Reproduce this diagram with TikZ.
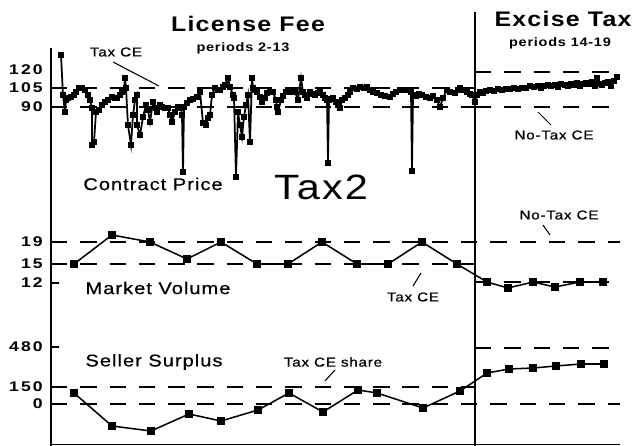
\documentclass[tikz,border=0pt]{standalone}
\usepackage{fontspec}
\setmainfont{Liberation Sans}
\newfontfamily\lab[FakeStretch=1.18,LetterSpace=6]{Liberation Sans}
\newfontfamily\labm[FakeStretch=1.18,LetterSpace=6,FakeBold=0.6]{Liberation Sans}
\newfontfamily\num[FakeStretch=1.25,LetterSpace=15]{Liberation Sans}
\usetikzlibrary{plotmarks}

\begin{document}
\begin{tikzpicture}[x=0.03cm,y=-0.03cm,
        every node/.style={inner sep=0pt},
        title/.style={font=\lab\bfseries\fontsize{18}{18}\selectfont},
        sub/.style={font=\lab\bfseries\fontsize{10.5}{10.5}\selectfont},
        panel/.style={font=\labm\fontsize{14.5}{14.5}\selectfont},
        note/.style={font=\labm\fontsize{11}{11}\selectfont},
        ticklab/.style={anchor=east,font=\num\bfseries\fontsize{12}{12}\selectfont},
        celine/.style={line width=1.2pt,dash pattern=on 14pt off 11pt},
        series/.style={line width=1.3pt,mark=square*,mark size=3pt},
        leader/.style={line width=0.9pt}]
    \useasboundingbox (0,0) rectangle (633,446);

    % titles
    \node[title] (lic) at (248,24) {License Fee};
    \node[sub] (lic_per) at (243,48) {periods 2-13};
    \node[title] (exc) at (563,19) {Excise Tax};
    \node[sub] (exc_per) at (560,43) {periods 14-19};

    % axes
    \draw[line width=1pt] (51,48) -- (51,446);
    \draw[line width=1pt] (475,12) -- (475,446);
    \draw[line width=0.4pt] (51,444) -- (620,444);
    \draw[line width=1pt] (51,283) -- (59,283) (51,347) -- (59,347);

    \foreach \v/\y in {120/70,105/88,90/107,19/242,15/264,12/283,480/347,150/387,0/404}
        \node[ticklab] (tick\v) at (43,\y) {\v};

    % competitive equilibrium lines
    \draw[celine] (51,88) -- (475,88) (51,107) -- (475,107);
    \draw[celine] (475,72) -- (620,72) (475,107) -- (620,107);
    \draw[celine] (51,242) -- (620,242) (51,264) -- (475,264) (475,282) -- (620,282);
    \draw[celine] (51,387) -- (475,387) (51,404) -- (620,404) (475,348) -- (620,348);

    % contract prices
    \draw[line width=1.5pt,mark=square*,mark size=2pt] plot coordinates {
        (61,55) (63,95) (65,112) (66,100) (68,98) (71,97) (74,95) (76,92) (79,88) (82,88)
        (85,90) (88,95) (90,100) (92,108) (92,145) (94,142) (96,112) (99,110) (102,105) (105,102)
        (108,100) (112,97) (115,98) (117,98) (120,95) (122,92) (124,90) (125,78) (126,88) (128,125)
        (131,145) (133,115) (135,100) (137,95) (137,125) (140,135) (143,117) (146,105) (148,110) (150,122)
        (153,102) (156,108) (157,112) (160,105) (162,107) (165,108) (168,108) (170,115) (172,122) (175,112)
        (178,107) (181,108) (182,115) (183,172) (184,107) (187,103) (190,100) (193,99) (197,97) (200,92)
        (203,123) (206,125) (208,118) (210,115) (212,95) (215,88) (218,90) (220,90) (223,87) (225,85)
        (228,78) (230,87) (233,95) (234,98) (236,177) (238,112) (240,125) (242,137) (244,117) (246,105)
        (248,95) (250,142) (252,78) (253,88) (255,90) (257,92) (260,97) (262,102) (265,98) (267,93)
        (270,92) (273,92) (276,100) (277,107) (278,112) (281,100) (283,96) (286,92) (288,90) (292,92)
        (295,92) (298,100) (301,78) (303,92) (305,95) (307,98) (310,92) (313,94) (315,95) (318,93)
        (320,92) (323,95) (325,98) (327,100) (328,163) (329,100) (331,99) (333,98) (336,102) (338,105)
        (340,108) (342,100) (345,98) (348,95) (350,92) (353,88) (357,89) (360,87) (364,88) (367,87)
        (370,90) (373,92) (377,93) (381,95) (385,96) (390,97) (393,94) (396,92) (400,90) (404,90)
        (408,90) (411,92) (412,171) (413,95) (416,96) (419,94) (422,95) (426,97) (430,98) (433,96)
        (437,100) (440,107) (443,98) (447,90) (450,92) (455,93) (458,90) (460,88) (463,90) (467,92)
        (470,94) (472,95) (475,102) (477,95) (480,92) (483,93) (486,91) (490,90) (494,91) (498,89)
        (502,90) (506,89) (510,89) (514,88) (518,89) (522,88) (526,88) (530,86) (534,87) (538,86)
        (541,88) (544,86) (548,85) (551,86) (555,85) (558,87) (561,84) (565,85) (568,86) (571,84)
        (574,85) (577,83) (580,86) (583,84) (586,83) (589,84) (592,82) (595,86) (597,78) (599,84)
        (602,85) (605,83) (608,82) (611,86) (614,81) (617,77)};

    % market volume
    \draw[series] plot coordinates {(74,264) (112,235) (150,242) (187,259) (221,242) (257,264)
        (288,264) (322,242) (357,264) (388,264) (422,242) (457,264) (487,282) (508,288) (533,282)
        (555,287) (580,282) (603,282)};

    % seller surplus
    \draw[series] plot coordinates {(74,393) (112,426) (151,431) (189,414) (221,421) (258,410)
        (289,393) (323,412) (358,390) (377,393) (423,408) (460,391) (487,373) (509,369) (533,368)
        (556,366) (581,364) (604,364)};

    % panel labels
    \node[panel] (price) at (153,184) {Contract Price};
    \node[font=\lab\fontsize{30}{30}\selectfont] (tax2) at (321,187) {Tax2};
    \node[panel] (volume) at (158,288) {Market Volume};
    \node[panel] (surplus) at (154,362) {Seller Surplus};

    \node[note] (ce_price) at (116,52) {Tax CE};
    \node[note] (notax_price) at (554,135) {No-Tax CE};
    \node[note] (ce_vol) at (413,297) {Tax CE};
    \node[note] (notax_vol) at (559,215) {No-Tax CE};
    \node[note] (ce_share) at (333,362) {Tax CE share};

    \coordinate (a1) at (113,62);  \coordinate (b1) at (159,86);
    \coordinate (a2) at (551,125); \coordinate (b2) at (538,112);
    \coordinate (a3) at (413,286); \coordinate (b3) at (421,273);
    \coordinate (a4) at (543,225); \coordinate (b4) at (550,235);
    \coordinate (a5) at (325,381); \coordinate (b5) at (335,370);
    \draw[leader] (a1) -- (b1) (a2) -- (b2) (a3) -- (b3) (a4) -- (b4) (a5) -- (b5);
\end{tikzpicture}
\end{document}
